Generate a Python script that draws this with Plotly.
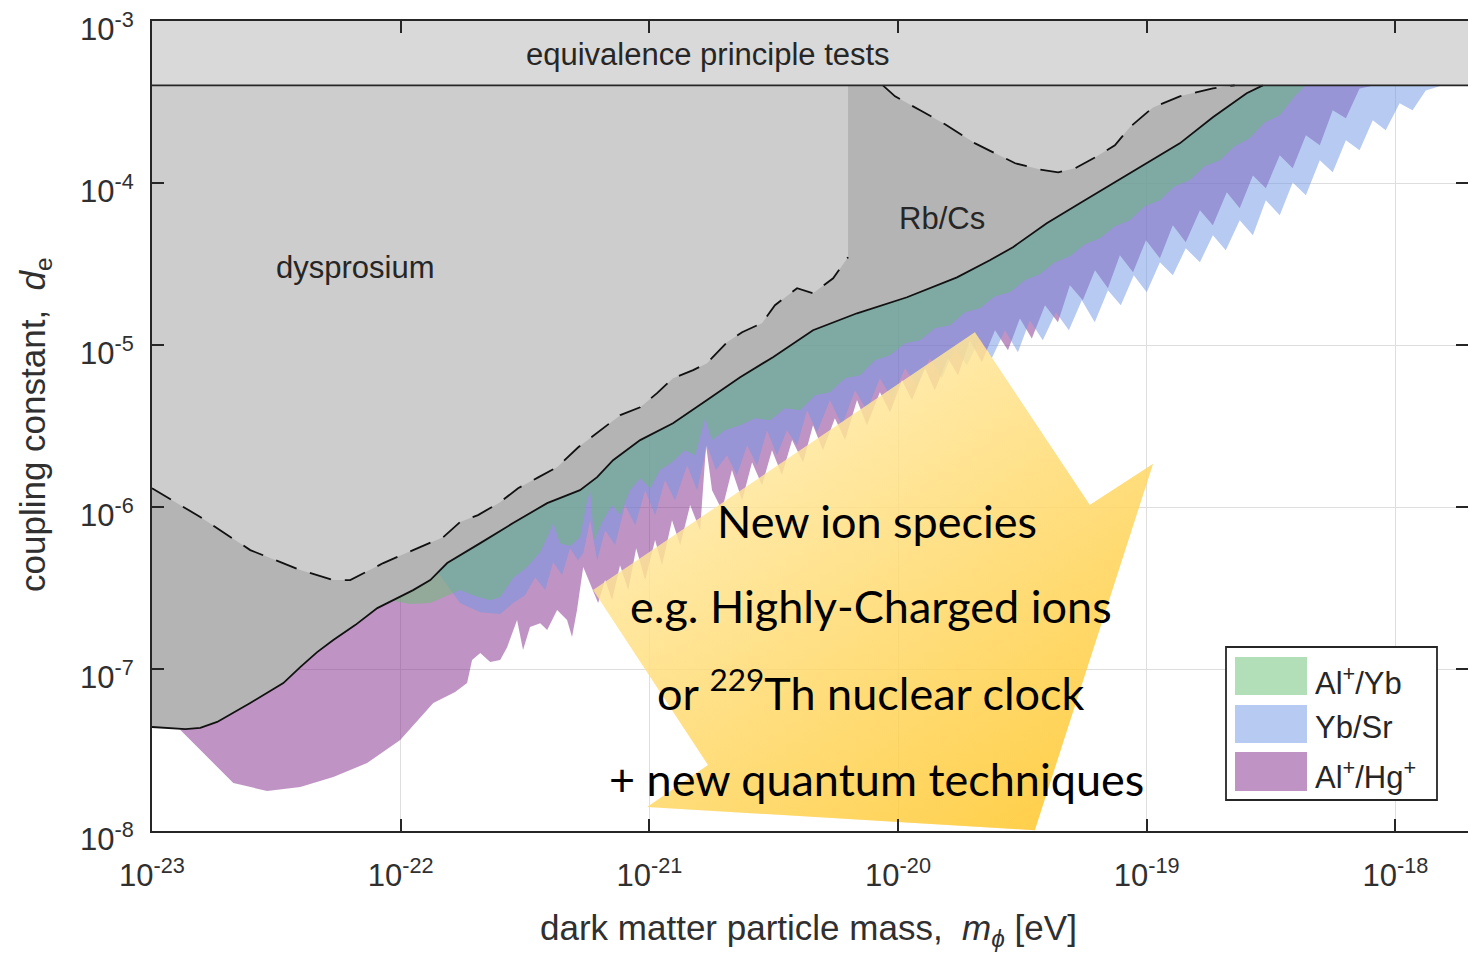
import plotly.graph_objects as go

# ---------------- data (log10 values) ----------------
x_tick_exp = [-23, -22, -21, -20, -19, -18]
y_tick_exp = [-8, -7, -6, -5, -4, -3]

ep_bound_log = -3.397   # equivalence-principle tests bound

# combined clock limit (solid black line)
limit_logm = [-23.000, -22.866, -22.806, -22.738, -22.605, -22.472, -22.404, -22.336, -22.271, -22.183,
              -22.094, -22.002, -21.950, -21.881, -21.813, -21.680, -21.548, -21.411, -21.279, -21.210,
              -21.146, -21.037, -20.905, -20.768, -20.635, -20.503, -20.342, -20.165, -19.964, -19.763,
              -19.631, -19.538, -19.402, -19.269, -19.136, -19.000, -18.867, -18.734, -18.598, -18.533]
limit_logd = [-7.358, -7.371, -7.364, -7.327, -7.210, -7.087, -6.988, -6.896, -6.821, -6.729,
              -6.624, -6.556, -6.513, -6.451, -6.346, -6.223, -6.099, -5.976, -5.896, -5.816,
              -5.711, -5.587, -5.483, -5.340, -5.199, -5.075, -4.909, -4.804, -4.705, -4.582,
              -4.477, -4.396, -4.248, -4.125, -4.002, -3.878, -3.755, -3.594, -3.446, -3.397]

# dysprosium bound (dashed)
dy_logm = [-23.000, -22.806, -22.605, -22.404, -22.271, -22.203, -22.070, -21.950, -21.829, -21.761,
           -21.689, -21.600, -21.528, -21.447, -21.371, -21.286, -21.198, -21.117, -21.037, -20.969,
           -20.905, -20.824, -20.768, -20.688, -20.627, -20.547, -20.495, -20.406, -20.342, -20.261, -20.201]
dy_logd = [-5.884, -6.062, -6.266, -6.389, -6.451, -6.451, -6.346, -6.266, -6.186, -6.093,
           -6.050, -5.970, -5.884, -5.817, -5.754, -5.631, -5.526, -5.433, -5.384, -5.297,
           -5.205, -5.155, -5.112, -4.983, -4.921, -4.865, -4.754, -4.649, -4.680, -4.588, -4.458]

# Rb/Cs bound (dashed U)
rb_logm = [-20.061, -20.012, -19.911, -19.811, -19.690, -19.609, -19.529, -19.428, -19.356, -19.288,
           -19.207, -19.128, -19.068, -18.975, -18.867, -18.734, -18.646]
rb_logd = [-3.397, -3.465, -3.551, -3.637, -3.755, -3.816, -3.878, -3.917, -3.934, -3.909,
           -3.841, -3.767, -3.656, -3.533, -3.465, -3.415, -3.397]

# Al+/Hg+ lower edge
alhg_logm = [-22.894, -22.806, -22.673, -22.537, -22.404, -22.271, -22.135, -22.002, -21.869, -21.781,
             -21.733, -21.713, -21.680, -21.640, -21.600, -21.572, -21.532, -21.508, -21.480, -21.439,
             -21.411, -21.371, -21.331, -21.311, -21.291, -21.266, -21.226, -21.206, -21.178, -21.150,
             -21.118, -21.085, -21.053, -21.017, -20.977, -20.949, -20.909, -20.876, -20.836, -20.796,
             -20.772, -20.748, -20.708, -20.668, -20.627, -20.587, -20.547, -20.507, -20.467, -20.426,
             -20.382, -20.342, -20.302, -20.254, -20.213, -20.165, -20.125, -20.073, -20.032, -19.984,
             -19.944, -19.892, -19.852, -19.799, -19.759, -19.711, -19.663, -19.610, -19.558, -19.510,
             -19.462, -19.409, -19.357, -19.309, -19.257, -19.208, -19.156, -19.108, -19.055, -19.003,
             -18.947, -18.895, -18.843, -18.786, -18.734, -18.678, -18.626, -18.573, -18.521, -18.465,
             -18.413, -18.360, -18.304, -18.252, -18.199, -18.144, -18.100]
alhg_logd = [-7.364, -7.500, -7.704, -7.753, -7.728, -7.667, -7.580, -7.439, -7.210, -7.142,
             -7.087, -6.945, -6.902, -6.957, -6.945, -6.865, -6.698, -6.883, -6.741, -6.717,
             -6.760, -6.636, -6.698, -6.803, -6.636, -6.371, -6.513, -6.593, -6.451, -6.574,
             -6.359, -6.513, -6.254, -6.451, -6.204, -6.359, -6.081, -6.235, -5.988, -6.143,
             -5.618, -5.896, -6.019, -5.772, -5.958, -5.723, -5.865, -5.649, -5.803, -5.587,
             -5.723, -5.495, -5.649, -5.452, -5.587, -5.340, -5.495, -5.291, -5.415, -5.217,
             -5.340, -5.144, -5.279, -5.082, -5.187, -4.970, -5.107, -4.909, -5.032, -4.836,
             -4.959, -4.754, -4.859, -4.631, -4.723, -4.538, -4.649, -4.446, -4.551, -4.353,
             -4.465, -4.261, -4.366, -4.168, -4.261, -4.057, -4.156, -3.953, -4.032, -3.829,
             -3.909, -3.705, -3.767, -3.551, -3.600, -3.416, -3.403]

# Yb/Sr lower edge
ybsr_logm = [-21.849, -21.761, -21.680, -21.600, -21.548, -21.500, -21.459, -21.419, -21.387, -21.351,
             -21.319, -21.287, -21.266, -21.238, -21.210, -21.178, -21.138, -21.098, -21.057, -21.017,
             -20.977, -20.937, -20.897, -20.848, -20.808, -20.768, -20.732, -20.688, -20.648, -20.607,
             -20.567, -20.527, -20.487, -20.447, -20.406, -20.366, -20.326, -20.274, -20.225, -20.173,
             -20.125, -20.073, -20.025, -19.972, -19.924, -19.872, -19.824, -19.771, -19.723, -19.671,
             -19.623, -19.570, -19.518, -19.470, -19.418, -19.365, -19.313, -19.261, -19.209, -19.156,
             -19.104, -19.052, -19.000, -18.947, -18.895, -18.843, -18.786, -18.734, -18.682, -18.626,
             -18.573, -18.521, -18.465, -18.413, -18.360, -18.304, -18.252, -18.199, -18.144, -18.091,
             -18.039, -17.983, -17.931, -17.878, -17.822]
ybsr_logd = [-6.408, -6.593, -6.649, -6.661, -6.593, -6.544, -6.433, -6.513, -6.340, -6.420,
             -6.254, -6.328, -6.285, -6.081, -6.328, -6.143, -6.235, -5.988, -6.112, -5.896,
             -6.050, -5.834, -5.958, -5.742, -5.896, -5.618, -5.772, -5.680, -5.803, -5.618,
             -5.742, -5.526, -5.680, -5.526, -5.618, -5.402, -5.538, -5.340, -5.495, -5.279,
             -5.402, -5.205, -5.328, -5.144, -5.248, -5.082, -5.205, -5.020, -5.125, -4.959,
             -5.082, -4.909, -5.044, -4.847, -4.970, -4.797, -4.909, -4.723, -4.859, -4.662,
             -4.754, -4.569, -4.674, -4.489, -4.569, -4.403, -4.489, -4.322, -4.415, -4.230,
             -4.322, -4.106, -4.199, -3.996, -4.075, -3.860, -3.934, -3.736, -3.798, -3.613,
             -3.674, -3.508, -3.551, -3.428, -3.403]

# Al+/Yb lower edge
alyb_logm = [-22.042, -21.961, -21.881, -21.813, -21.761, -21.701, -21.640, -21.600, -21.548, -21.492,
             -21.439, -21.407, -21.387, -21.359, -21.319, -21.279, -21.254, -21.238, -21.222, -21.186,
             -21.150, -21.118, -21.078, -21.037, -20.997, -20.957, -20.909, -20.857, -20.816, -20.776,
             -20.748, -20.696, -20.635, -20.575, -20.515, -20.455, -20.394, -20.334, -20.274, -20.213,
             -20.153, -20.093, -20.033, -19.972, -19.912, -19.852, -19.791, -19.731, -19.671, -19.610,
             -19.550, -19.490, -19.430, -19.369, -19.309, -19.249, -19.188, -19.128, -19.068, -19.008,
             -18.947, -18.887, -18.827, -18.767, -18.706, -18.646, -18.586, -18.525, -18.465, -18.405, -18.364]
alyb_logd = [-6.575, -6.599, -6.593, -6.550, -6.513, -6.550, -6.575, -6.556, -6.439, -6.371,
             -6.278, -6.174, -6.099, -6.223, -6.241, -6.187, -5.988, -5.896, -6.204, -6.081,
             -5.988, -6.050, -5.896, -5.822, -5.884, -5.772, -5.723, -5.649, -5.680, -5.452,
             -5.587, -5.526, -5.495, -5.452, -5.464, -5.390, -5.402, -5.310, -5.291, -5.205,
             -5.187, -5.094, -5.063, -4.989, -4.970, -4.896, -4.878, -4.797, -4.773, -4.699,
             -4.674, -4.600, -4.563, -4.489, -4.452, -4.378, -4.341, -4.267, -4.230, -4.143,
             -4.106, -4.020, -3.983, -3.897, -3.860, -3.773, -3.724, -3.625, -3.582, -3.465, -3.403]

# big arrow outline
arrow_logm = [-19.691, -19.229, -18.975, -19.450, -21.009, -20.764, -21.226]
arrow_logd = [-4.921, -5.988, -5.735, -7.995, -7.852, -7.593, -6.513]

band_names = ["Al<sup>+</sup>/Yb", "Yb/Sr", "Al<sup>+</sup>/Hg<sup>+</sup>"]
band_fill = ["rgba(103,191,113,0.5)", "rgba(111,149,229,0.5)", "rgba(127,41,137,0.5)"]
band_swatch = ["#b3dfb8", "#b7caf2", "#bf94c4"]

arrow_lines = ["New ion species", "e.g. Highly-Charged ions",
               "or <sup>229</sup>Th nuclear clock", "+ new quantum techniques"]

# ---------------- helpers ----------------
def p10(a):
    return [10 ** v for v in a]

TOP = -2.9
LEFT = -23.05
RIGHT = -17.6

fig = go.Figure()

def band(logm, logd, color, name):
    xs = p10(logm) + [10 ** logm[-1], 10 ** logm[0]]
    ys = p10(logd) + [10 ** TOP, 10 ** TOP]
    fig.add_trace(go.Scatter(x=xs, y=ys, fill="toself", fillcolor=color, mode="lines",
                             line=dict(width=0), name=name, showlegend=False, hoverinfo="skip"))

band(alhg_logm, alhg_logd, band_fill[2], "Al+/Hg+")
band(ybsr_logm, ybsr_logd, band_fill[1], "Yb/Sr")
band(alyb_logm, alyb_logd, band_fill[0], "Al+/Yb")

# dark gray excluded region above the combined limit
xs = [10 ** LEFT] + p10(limit_logm) + [10 ** limit_logm[-1], 10 ** LEFT]
ys = [10 ** limit_logd[0]] + p10(limit_logd) + [10 ** TOP, 10 ** TOP]
fig.add_trace(go.Scatter(x=xs, y=ys, fill="toself", fillcolor="#b4b4b4", mode="lines",
                         line=dict(width=0), showlegend=False, hoverinfo="skip"))
# dysprosium region
xs = [10 ** LEFT] + p10(dy_logm) + [10 ** dy_logm[-1], 10 ** LEFT]
ys = [10 ** dy_logd[0]] + p10(dy_logd) + [10 ** TOP, 10 ** TOP]
fig.add_trace(go.Scatter(x=xs, y=ys, fill="toself", fillcolor="#cdcdcd", mode="lines",
                         line=dict(width=0), showlegend=False, hoverinfo="skip"))
# Rb/Cs-U region
fig.add_trace(go.Scatter(x=p10(rb_logm), y=p10(rb_logd), fill="toself", fillcolor="#cdcdcd",
                         mode="lines", line=dict(width=0), showlegend=False, hoverinfo="skip"))
# equivalence principle band
fig.add_trace(go.Scatter(x=[10 ** LEFT, 10 ** RIGHT, 10 ** RIGHT, 10 ** LEFT],
                         y=[10 ** ep_bound_log, 10 ** ep_bound_log, 10 ** TOP, 10 ** TOP],
                         fill="toself", fillcolor="#d9d9d9", mode="lines", line=dict(width=0),
                         showlegend=False, hoverinfo="skip"))

# lines
fig.add_trace(go.Scatter(x=p10(limit_logm), y=p10(limit_logd), mode="lines",
                         line=dict(color="#111111", width=1.8), showlegend=False, hoverinfo="skip"))
fig.add_trace(go.Scatter(x=p10(dy_logm), y=p10(dy_logd), mode="lines",
                         line=dict(color="#111111", width=1.8, dash="22px,14px"),
                         showlegend=False, hoverinfo="skip"))
fig.add_trace(go.Scatter(x=p10(rb_logm), y=p10(rb_logd), mode="lines",
                         line=dict(color="#111111", width=1.8, dash="22px,14px"),
                         showlegend=False, hoverinfo="skip"))
fig.add_trace(go.Scatter(x=[10 ** LEFT, 10 ** RIGHT], y=[10 ** ep_bound_log] * 2, mode="lines",
                         line=dict(color="#262626", width=1.8), showlegend=False, hoverinfo="skip"))

# arrow (diagonal gradient imitated by two layers)
ax_ = p10(arrow_logm) + [10 ** arrow_logm[0]]
ay_ = p10(arrow_logd) + [10 ** arrow_logd[0]]
fig.add_trace(go.Scatter(x=ax_, y=ay_, fill="toself", mode="lines", line=dict(width=0),
                         fillgradient=dict(type="horizontal",
                                           colorscale=[[0, "rgba(255,238,180,0.70)"],
                                                       [1, "rgba(255,196,30,0.75)"]]),
                         showlegend=False, hoverinfo="skip"))
fig.add_trace(go.Scatter(x=ax_, y=ay_, fill="toself", mode="lines", line=dict(width=0),
                         fillgradient=dict(type="vertical",
                                           colorscale=[[0, "rgba(255,195,30,0.45)"],
                                                       [1, "rgba(255,248,220,0.45)"]]),
                         showlegend=False, hoverinfo="skip"))

# ---------------- layout ----------------
OFF = 8                       # page margin of the html body
W, H = 1468, 952
L, R, T, B = 144, 8, 13, 129
PL, PT = OFF + L, OFF + T     # plot area in page pixels
pw_ = W - L - R
ph_ = H - T - B
PB = PT + ph_

def px_x(px):
    return (px - PL) / pw_

def px_y(py):
    return (PB - py) / ph_

tick_font = dict(family="Liberation Sans, Arial, sans-serif", size=31, color="#303030")
axis_common = dict(type="log", ticks="inside", ticklen=12, tickwidth=1.5, tickcolor="#262626",
                   showline=True, linecolor="#262626", linewidth=1.8, mirror="ticks",
                   showgrid=True, gridcolor="#dedede", gridwidth=1, zeroline=False,
                   tickfont=tick_font, ticklabeloverflow="allow")
fig.update_layout(
    width=W, height=H, margin=dict(l=L, r=R, t=T, b=B, autoexpand=False),
    paper_bgcolor="white", plot_bgcolor="white", showlegend=False,
    xaxis=dict(axis_common, range=[-23.0001, -17.708], tickvals=[10 ** e for e in x_tick_exp],
               ticktext=["10<sup>%d</sup>" % e for e in x_tick_exp], ticklabelstandoff=16),
    yaxis=dict(axis_common, range=[-8.0001, -2.9997], tickvals=[10 ** e for e in y_tick_exp],
               ticktext=["10<sup>%d</sup>" % e for e in y_tick_exp], ticklabelstandoff=10,
               ticklabelshift=8),
)

ann = []
def add_text(txt, cx, cy, font, **kw):
    d = dict(x=px_x(cx), y=px_y(cy), xref="paper", yref="paper", text=txt, showarrow=False,
             font=font, xanchor="center", yanchor="middle")
    d.update(kw)
    ann.append(d)

lab_font = dict(family="Liberation Sans, Arial, sans-serif", size=31, color="#262626")
add_text("equivalence principle tests", 708, 55, lab_font)
add_text("dysprosium", 355, 267, lab_font)
add_text("Rb/Cs", 942, 218, lab_font)
title_font = dict(family="Liberation Sans, Arial, sans-serif", size=35, color="#303030")
add_text("dark matter particle mass,  <i>m</i><sub><i>ϕ</i></sub> [eV]", 808, 930, title_font)
add_text("coupling constant,  <i>d</i><sub>e</sub>", 35, 425, title_font, textangle=-90)

arrow_font = dict(family="Lato, sans-serif", size=45, color="black")
for txt, cx, cy in zip(arrow_lines, [877, 871, 871, 876], [521, 606, 690, 779]):
    add_text(txt, cx, cy, arrow_font)

# legend (manual, MATLAB style)
shapes = [dict(type="rect", xref="paper", yref="paper", x0=px_x(1226), x1=px_x(1437),
               y0=px_y(800), y1=px_y(647), fillcolor="white",
               line=dict(color="#262626", width=1.8), layer="above")]
sw_rows = [(657, 695), (705, 743), (752, 791)]
lab_rows = [681, 727, 775]
for (t0, t1), yc, name, col in zip(sw_rows, lab_rows, band_names, band_swatch):
    shapes.append(dict(type="rect", xref="paper", yref="paper", x0=px_x(1235), x1=px_x(1307),
                       y0=px_y(t1), y1=px_y(t0), fillcolor=col, line=dict(width=0), layer="above"))
    add_text(name, 1313, yc, lab_font, xanchor="left")

fig.update_layout(annotations=ann, shapes=shapes)
fig.write_html("out.html")
